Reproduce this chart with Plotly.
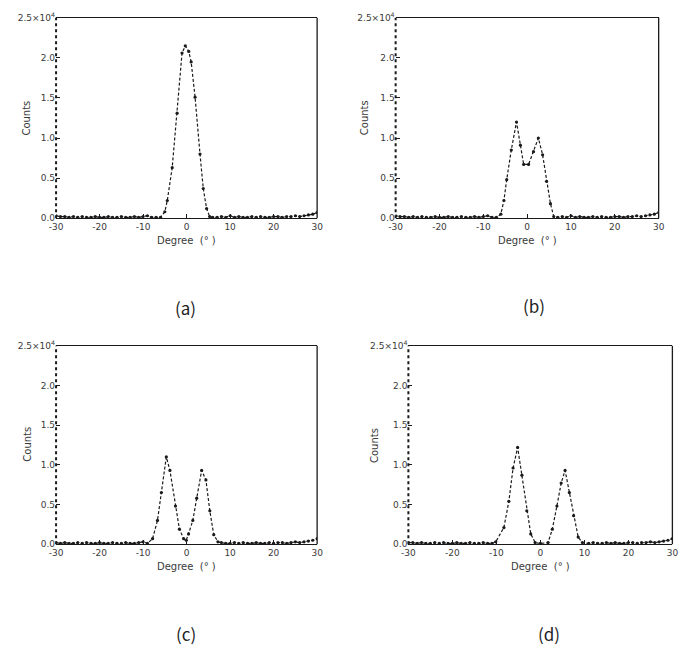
import plotly.graph_objects as go

W, H = 699, 670

# ---------------- data (counts in units of 10^4) ----------------
base_left_a = [0.03, 0.02, 0.02, 0.01, 0.02, 0.01, 0.02, 0.01, 0.01, 0.02, 0.01, 0.01,
               0.02, 0.01, 0.01, 0.02, 0.01, 0.01, 0.02, 0.01, 0.02, 0.03, 0.01, 0.01]
base_right_a = [0.01, 0.02, 0.01, 0.03, 0.01, 0.02, 0.01, 0.01, 0.02, 0.01, 0.02, 0.01,
                0.01, 0.02, 0.02, 0.01, 0.02, 0.02, 0.03, 0.02, 0.03, 0.04, 0.05, 0.07]

x_a_peak = [-6.0, -5.0, -4.44, -3.31, -2.18, -1.05, -0.3, 0.5, 1.05, 1.95, 3.08, 3.83, 4.6, 5.3, 6.0]
y_a_peak = [0.01, 0.08, 0.22, 0.63, 1.31, 2.06, 2.15, 2.08, 1.95, 1.51, 0.80, 0.37, 0.12, 0.02, 0.01]

x_b_peak = [-6.0, -5.3, -4.66, -3.62, -2.43, -1.54, -0.79, 0.33, 1.45, 2.56, 3.53, 4.43, 5.32, 6.07]
y_b_peak = [0.05, 0.22, 0.48, 0.85, 1.20, 0.91, 0.67, 0.67, 0.83, 1.00, 0.79, 0.46, 0.18, 0.02]

base_left_c = [0.02, 0.01, 0.02, 0.01, 0.01, 0.02, 0.01, 0.02, 0.01, 0.01, 0.02,
               0.01, 0.01, 0.02, 0.01, 0.01, 0.02, 0.01, 0.01, 0.02, 0.03, 0.01]
x_c_peak = [-7.82, -6.69, -5.79, -4.66, -3.83, -2.56, -1.65, -0.68, -0.08, 0.45, 1.43, 2.33,
            3.46, 4.44, 5.34, 6.24, 7.2]
y_c_peak = [0.07, 0.30, 0.65, 1.10, 0.93, 0.48, 0.19, 0.07, 0.05, 0.13, 0.30, 0.58,
            0.93, 0.81, 0.42, 0.12, 0.03]
base_right_c = [0.02, 0.01, 0.01, 0.02, 0.01, 0.02, 0.01, 0.01, 0.02, 0.01, 0.01, 0.02,
                0.01, 0.02, 0.02, 0.01, 0.02, 0.03, 0.02, 0.03, 0.04, 0.05, 0.07]

base_left_d = [0.02, 0.02, 0.01, 0.02, 0.01, 0.01, 0.02, 0.01, 0.02, 0.01,
               0.01, 0.02, 0.01, 0.01, 0.02, 0.01, 0.01, 0.02, 0.01, 0.01]
x_d_peak = [-10.15, -8.29, -7.17, -6.21, -5.17, -4.20, -3.09, -2.19, -1.2, 0.0, 1.75, 2.71,
            3.75, 4.72, 5.61, 6.58, 7.55, 8.59, 9.55]
y_d_peak = [0.03, 0.21, 0.54, 0.96, 1.22, 0.87, 0.42, 0.13, 0.02, 0.01, 0.02, 0.19,
            0.48, 0.77, 0.93, 0.65, 0.36, 0.09, 0.02]
base_right_d = [0.01, 0.02, 0.01, 0.01, 0.02, 0.01, 0.02, 0.01, 0.01, 0.02,
                0.02, 0.01, 0.02, 0.02, 0.03, 0.02, 0.03, 0.04, 0.05, 0.07]

x_ticks = [-30, -20, -10, 0, 10, 20, 30]
x_tick_text = ["-30", "-20", "-10", "0", "10", "20", "30"]
y_ticks = [0.0, 0.5, 1.0, 1.5, 2.0, 2.5]
y_tick_text = ["0.0", "0.5", "1.0", "1.5", "2.0", "2.5×10<sup>4</sup>"]
panel_labels = ["(a)", "(b)", "(c)", "(d)"]

x_a = list(range(-30, -6)) + x_a_peak + list(range(7, 31))
y_a = base_left_a + y_a_peak + base_right_a
x_b = list(range(-30, -6)) + x_b_peak + list(range(7, 31))
y_b = base_left_a + y_b_peak + base_right_a
x_c = list(range(-30, -8)) + x_c_peak + list(range(8, 31))
y_c = base_left_c + y_c_peak + base_right_c
x_d = list(range(-30, -10)) + x_d_peak + list(range(11, 31))
y_d = base_left_d + y_d_peak + base_right_d

series = [(x_a, y_a), (x_b, y_b), (x_c, y_c), (x_d, y_d)]

# ---------------- layout geometry (pixels) ----------------
# (left, right, top, bottom)
boxes = [(50, 316, 11, 215), (396, 664, 11, 215), (50, 316, 345, 547), (409, 678, 345, 547)]
label_pos = [(182, 306), (537, 304), (182, 638), (552, 638)]
ytitle_pos = [(20, 113), (365, 113), (20, 445), (375, 447)]
xtitle_pos = [(183, 238), (530, 238), (183, 570), (544, 570)]

fig = go.Figure()
tick_font = dict(family="DejaVu Sans", size=9, color="#3a3a3a")
ink = "#1a1a1a"

for i, ((xs, ys), (l, r, t, b)) in enumerate(zip(series, boxes)):
    n = "" if i == 0 else str(i + 1)
    fig.add_trace(go.Scatter(
        x=xs, y=ys, mode="lines+markers",
        line=dict(color=ink, width=1.2, dash="3px,2px"),
        marker=dict(color=ink, size=3.2),
        xaxis="x" + n, yaxis="y" + n, showlegend=False))
    fig.update_layout(**{
        "xaxis" + n: dict(domain=[l / W, r / W], range=[-30, 30], anchor="y" + n,
                          tickvals=x_ticks, ticktext=x_tick_text, ticks="inside",
                          ticklen=4, tickcolor=ink, showline=True, mirror=True,
                          linecolor=ink, linewidth=1.4, showgrid=False, zeroline=False,
                          tickfont=tick_font),
        "yaxis" + n: dict(domain=[1 - b / H, 1 - t / H], range=[0, 2.5], anchor="x" + n,
                          tickvals=y_ticks, ticktext=y_tick_text, ticks="inside",
                          ticklen=4, tickcolor=ink, showline=False,
                          showgrid=False, zeroline=False, tickfont=tick_font),
    })
    # right frame solid, left frame dotted (as in the scan)
    fig.add_shape(type="line", xref="x" + n + " domain", yref="y" + n + " domain",
                  x0=1, x1=1, y0=0, y1=1, line=dict(color=ink, width=1.3))
    fig.add_shape(type="line", xref="x" + n + " domain", yref="y" + n + " domain",
                  x0=0, x1=0, y0=0, y1=1, line=dict(color=ink, width=2, dash="dot"))

    lx, ly = label_pos[i]
    fig.add_annotation(text=panel_labels[i], x=lx / W, y=1 - ly / H, xref="paper",
                       yref="paper", showarrow=False, xanchor="center", yanchor="middle",
                       font=dict(family="Noto Sans CJK SC", size=17, color="#222"))
    tx, ty = ytitle_pos[i]
    fig.add_annotation(text="Counts", x=tx / W, y=1 - ty / H, xref="paper", yref="paper",
                       showarrow=False, textangle=-90, xanchor="center", yanchor="middle",
                       font=dict(family="DejaVu Sans", size=10, color="#3a3a3a"))
    dx, dy = xtitle_pos[i]
    fig.add_annotation(text="Degree  (° )", x=dx / W, y=1 - dy / H, xref="paper",
                       yref="paper", showarrow=False, xanchor="center", yanchor="middle",
                       font=dict(family="DejaVu Sans", size=10, color="#3a3a3a"))

fig.update_layout(width=W, height=H, margin=dict(l=0, r=0, t=0, b=0),
                  paper_bgcolor="white", plot_bgcolor="white")

fig.write_html("out.html")
